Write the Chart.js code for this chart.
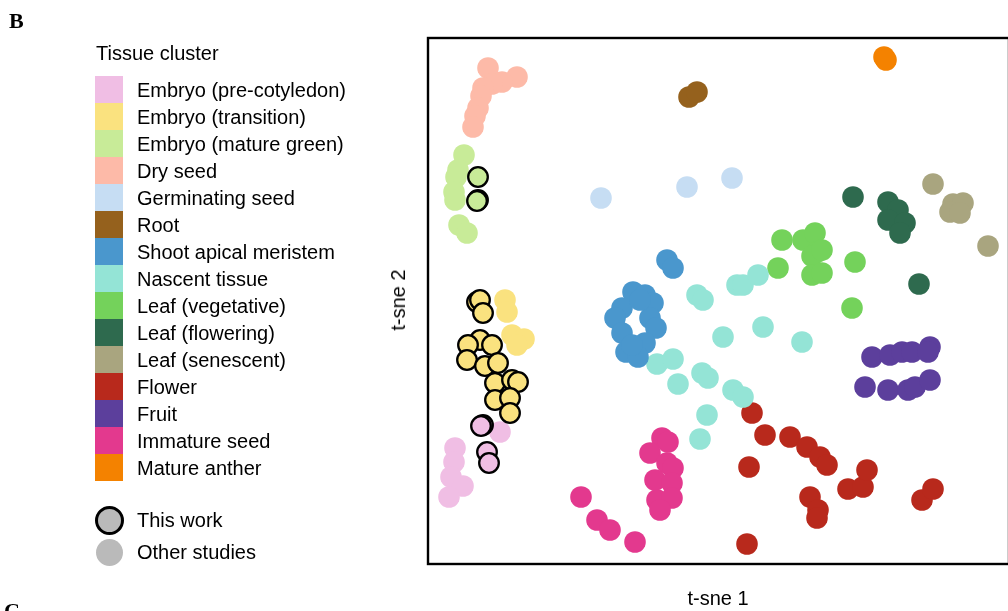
<!DOCTYPE html>
<html>
<head>
<meta charset="utf-8">
<script src="https://cdn.jsdelivr.net/npm/chart.js@4.4.1/dist/chart.umd.min.js"></script>
<style>
  html, body { margin: 0; padding: 0; background: #fff; overflow: hidden; }
  #wrap { position: relative; width: 1008px; height: 611px; overflow: hidden;
          font-family: "Liberation Sans", Arial, sans-serif; color: #000; }
  #plot { position: absolute; left: 0; top: 0; }
  .panel { position: absolute; font-family: "Liberation Serif", "Times New Roman", serif;
           font-weight: bold; font-size: 22px; line-height: 22px; }
  .txt { position: absolute; font-size: 20px; line-height: 20px; white-space: nowrap; }
  .sw { position: absolute; width: 28px; height: 27px; }
  .dot { position: absolute; border-radius: 50%; box-sizing: border-box; }
  #ylab { position: absolute; left: 398px; top: 300px; font-size: 20px; line-height: 20px;
          white-space: nowrap; transform: translate(-50%, -50%) rotate(-90deg); }
  #xlab { position: absolute; left: 718px; top: 598px; font-size: 20px; line-height: 20px;
          white-space: nowrap; transform: translate(-50%, -50%); }
</style>
</head>
<body>
<div id="wrap">
  <canvas id="plot" width="1012" height="611"></canvas>
  <div class="panel" style="left:9px; top:10px;">B</div>
  <div class="panel" style="left:4px; top:600px;">C</div>
  <div id="legend"></div>
  <div id="ylab">t-sne 2</div>
  <div id="xlab">t-sne 1</div>
</div>
<script>
// Tissue clusters, in legend order, with their fill colours
const tissueNames = [
  "Embryo (pre-cotyledon)", "Embryo (transition)", "Embryo (mature green)", "Dry seed",
  "Germinating seed", "Root", "Shoot apical meristem", "Nascent tissue",
  "Leaf (vegetative)", "Leaf (flowering)", "Leaf (senescent)", "Flower", "Fruit",
  "Immature seed", "Mature anther"
];
const tissueColors = [
  "#F0BEE4", "#FAE27F", "#C8EB98", "#FDBAA8", "#C6DDF3", "#95611D", "#4A97CD", "#94E4D6",
  "#74D25B", "#2E6A4E", "#A9A57F", "#B8291C", "#5C3F9C", "#E3398E", "#F48200"
];
const sourceLabels = ["This work", "Other studies"];

// t-SNE coordinates [t-sne 1, t-sne 2] — samples from this work
const preCotyledonThisWork = [[-23.5, -12.4], [-23.7, -12.5], [-23.1, -15.1], [-22.9, -16.2]];
const transitionThisWork = [
  [-24.1, -0.1], [-23.8, 0.1], [-23.5, -1.2], [-23.8, -3.9], [-25.0, -4.4], [-22.6, -4.4],
  [-25.1, -5.9], [-23.3, -6.5], [-22.0, -6.2], [-22.3, -8.2], [-20.6, -7.9], [-20.0, -8.1],
  [-22.3, -9.9], [-20.8, -9.7], [-20.8, -11.2]
];
const matureGreenThisWork = [[-24.0, 12.4], [-24.0, 10.1], [-24.1, 10.0]];

// t-SNE coordinates — samples from other studies
const preCotyledonOther = [[-21.8, -13.1], [-26.3, -14.7], [-26.4, -16.1], [-26.7, -17.6], [-25.5, -18.5], [-26.9, -19.6]];
const transitionOther = [[-21.3, 0.1], [-21.1, -1.1], [-20.6, -3.4], [-19.4, -3.8], [-20.1, -4.4]];
const matureGreenOther = [[-25.4, 14.6], [-26.0, 13.1], [-26.2, 12.4], [-26.4, 10.9], [-26.3, 10.1], [-25.9, 7.6], [-25.1, 6.8]];
const drySeed = [[-23.0, 23.3], [-20.1, 22.4], [-21.6, 21.9], [-22.6, 21.7], [-23.5, 21.3], [-23.7, 20.5], [-24.0, 19.3], [-24.3, 18.5], [-24.5, 17.4]];
const germinatingSeed = [[-11.7, 10.3], [-3.1, 11.4], [1.4, 12.3]];
const root = [[-2.9, 20.4], [-2.1, 20.9]];
const shootApicalMeristem = [
  [-5.1, 4.1], [-4.5, 3.3], [-8.5, 0.9], [-7.3, 0.6], [-6.5, -0.2], [-9.6, -0.7], [-10.3, -1.7],
  [-6.8, -1.7], [-6.2, -2.7], [-9.6, -3.2], [-7.3, -4.2], [-9.2, -5.1], [-8.0, -5.6], [-8.6, -4.4], [-7.8, 0.1]
];
const nascentTissue = [
  [-2.1, 0.6], [-1.5, 0.1], [1.9, 1.6], [2.5, 1.6], [4.0, 2.6], [0.5, -3.6], [4.5, -2.6], [8.4, -4.1],
  [-6.1, -6.3], [-4.5, -5.8], [-4.0, -8.3], [-1.6, -7.2], [-1.0, -7.7], [1.5, -8.9], [2.5, -9.6],
  [-1.1, -11.4], [-1.8, -13.8]
];
const leafVegetative = [[6.4, 6.1], [6.0, 3.3], [8.5, 6.1], [9.7, 6.8], [9.9, 4.9], [9.4, 4.5], [10.4, 5.1], [9.4, 2.6], [10.4, 2.8], [13.7, 3.9], [13.4, -0.7]];
const leafFlowering = [[13.5, 10.4], [17.0, 9.9], [18.0, 9.1], [17.0, 8.1], [18.7, 7.8], [18.2, 6.8], [20.1, 1.7]];
const leafSenescent = [[21.5, 11.7], [23.5, 9.7], [24.5, 9.8], [23.2, 8.9], [24.2, 8.8], [27.0, 5.5]];
const flower = [
  [3.4, -11.2], [4.7, -13.4], [7.2, -13.6], [8.9, -14.6], [10.2, -15.6], [10.9, -16.4], [3.1, -16.6],
  [9.2, -19.6], [10.0, -20.9], [9.9, -21.7], [13.0, -18.8], [14.5, -18.6], [14.9, -16.9],
  [20.4, -19.9], [21.5, -18.8], [2.9, -24.3]
];
const fruit = [
  [15.4, -5.6], [17.2, -5.4], [18.4, -5.1], [19.4, -5.1], [21.2, -4.6], [21.0, -5.1],
  [14.7, -8.6], [17.0, -8.9], [19.0, -8.9], [19.7, -8.6], [21.2, -7.9]
];
const immatureSeed = [
  [-5.6, -13.7], [-5.0, -14.1], [-6.8, -15.2], [-5.1, -16.2], [-4.5, -16.7], [-6.3, -17.9], [-4.6, -18.2],
  [-6.1, -19.9], [-4.6, -19.7], [-5.8, -20.9], [-13.7, -19.6], [-12.1, -21.9], [-10.8, -22.9], [-8.3, -24.1]
];
const matureAnther = [[16.6, 24.4], [16.8, 24.1]];

const otherByTissue = [
  preCotyledonOther, transitionOther, matureGreenOther, drySeed, germinatingSeed, root,
  shootApicalMeristem, nascentTissue, leafVegetative, leafFlowering, leafSenescent, flower,
  fruit, immatureSeed, matureAnther
];
const thisWorkByTissue = [preCotyledonThisWork, transitionThisWork, matureGreenThisWork];

const toPoints = arr => arr.map(p => ({ x: p[0], y: p[1] }));

const datasets = [];
thisWorkByTissue.forEach((pts, i) => {
  datasets.push({
    label: tissueNames[i] + " – " + sourceLabels[0],
    data: toPoints(pts),
    backgroundColor: tissueColors[i],
    borderColor: "#000",
    borderWidth: 2.3,
    pointRadius: 9.8,
    pointHoverRadius: 9.8,
    order: 0
  });
});
otherByTissue.forEach((pts, i) => {
  datasets.push({
    label: tissueNames[i] + " – " + sourceLabels[1],
    data: toPoints(pts),
    backgroundColor: tissueColors[i],
    borderColor: tissueColors[i],
    borderWidth: 0,
    pointRadius: 10.8,
    pointHoverRadius: 10.8,
    order: 1
  });
});

// Black frame around the plotting area
const frame = {
  id: "frame",
  afterDatasetsDraw(chart) {
    const { ctx, chartArea: a } = chart;
    ctx.save();
    ctx.strokeStyle = "#000";
    ctx.lineWidth = 2.4;
    ctx.strokeRect(a.left, a.top, a.right - a.left, a.bottom - a.top);
    ctx.restore();
  }
};

new Chart(document.getElementById("plot"), {
  type: "scatter",
  data: { datasets },
  options: {
    responsive: false,
    animation: false,
    events: [],
    layout: { autoPadding: false, padding: { left: 428, top: 38, right: 3, bottom: 47 } },
    plugins: { legend: { display: false }, tooltip: { enabled: false } },
    scales: {
      x: { type: "linear", display: false, min: -29, max: 29.1 },
      y: { type: "linear", display: false, min: -26.3, max: 26.3 }
    }
  },
  plugins: [frame]
});

// Legend: colour swatches for tissues, then markers for data source
const legend = document.getElementById("legend");
function addText(text, left, centerY) {
  const d = document.createElement("div");
  d.className = "txt";
  d.textContent = text;
  d.style.left = left + "px";
  d.style.top = (centerY - 10) + "px";
  legend.appendChild(d);
}
addText("Tissue cluster", 96, 53);
tissueNames.forEach((name, i) => {
  const top = 76 + i * 27;
  const s = document.createElement("div");
  s.className = "sw";
  s.style.left = "95px";
  s.style.top = top + "px";
  s.style.background = tissueColors[i];
  legend.appendChild(s);
  addText(name, 137, top + 13.5);
});
const srcY = [520, 552];
sourceLabels.forEach((name, i) => {
  const d = document.createElement("div");
  d.className = "dot";
  const size = i === 0 ? 29 : 27;
  d.style.width = size + "px";
  d.style.height = size + "px";
  d.style.left = (109.5 - size / 2) + "px";
  d.style.top = (srcY[i] - size / 2) + "px";
  d.style.background = "#BABABA";
  if (i === 0) d.style.border = "3px solid #000";
  legend.appendChild(d);
  addText(name, 137, srcY[i]);
});
</script>
</body>
</html>
